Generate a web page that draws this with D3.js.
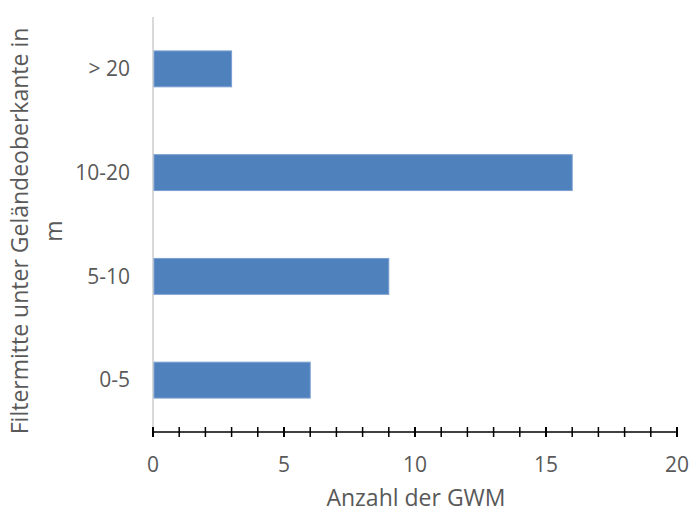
<!DOCTYPE html>
<html>
<head>
<meta charset="utf-8">
<script src="https://cdn.jsdelivr.net/npm/d3@7"></script>
<style>
  body { margin: 0; background: #fff; }
  text { font-family: "Open Sans", sans-serif; fill: #595959; }
</style>
</head>
<body>
<script>
// data
var categories = ["> 20", "10-20", "5-10", "0-5"];
var counts = [3, 16, 9, 6];
var xTicks = [0, 5, 10, 15, 20];

var margin = {top: 17, right: 13, bottom: 81, left: 153},
    width = 690 - margin.left - margin.right,
    height = 513 - margin.top - margin.bottom;

var x = d3.scaleLinear().domain([0, 20]).range([0, width]);
var y = d3.scaleBand().domain(categories).range([0, height]).paddingInner(0.654).paddingOuter(0.327);

var svg = d3.select("body").append("svg")
    .attr("width", 690)
    .attr("height", 513)
  .append("g")
    .attr("transform", "translate(" + margin.left + "," + margin.top + ")");

// y axis line (gray)
svg.append("line")
    .attr("x1", 0).attr("x2", 0)
    .attr("y1", 0).attr("y2", height)
    .style("stroke", "#d9d9d9").style("stroke-width", 2);

// bars
svg.selectAll("rect.bar")
    .data(categories)
  .enter().append("rect")
    .attr("class", "bar")
    .attr("x", x(0) + 1)
    .attr("y", function(d) { return y(d); })
    .attr("width", function(d, i) { return x(counts[i]) - x(0) - 1; })
    .attr("height", y.bandwidth())
    .style("fill", "#4f81bd")
    .style("stroke", "#7a9fd2")
    .style("stroke-width", 1);

// category labels
svg.selectAll("text.cat")
    .data(categories)
  .enter().append("text")
    .attr("class", "cat")
    .attr("x", -23)
    .attr("y", function(d) { return y(d) + y.bandwidth() / 2; })
    .attr("dy", "0.35em")
    .attr("text-anchor", "end")
    .style("font-size", "21px")
    .text(function(d) { return d; });

// x axis: minor ticks every 1, crossing
var xAxis = svg.append("g").attr("transform", "translate(0," + height + ")");
xAxis.append("line")
    .attr("x1", 0).attr("x2", width)
    .style("stroke", "#000").style("stroke-width", 1.5);
xAxis.selectAll("line.tick")
    .data(d3.range(0, 21))
  .enter().append("line")
    .attr("class", "tick")
    .attr("x1", function(d) { return x(d); })
    .attr("x2", function(d) { return x(d); })
    .attr("y1", -5).attr("y2", 5)
    .style("stroke", "#000")
    .style("stroke-width", function(d) { return d % 5 === 0 ? 2 : 1.5; });
xAxis.selectAll("text")
    .data(xTicks)
  .enter().append("text")
    .attr("x", function(d) { return x(d); })
    .attr("y", 40)
    .attr("text-anchor", "middle")
    .style("font-size", "21px")
    .text(function(d) { return d; });

// axis titles
svg.append("text")
    .attr("x", width / 2 + 1)
    .attr("y", height + 74)
    .attr("text-anchor", "middle")
    .style("font-size", "23px")
    .text("Anzahl der GWM");

var yTitle = svg.append("g")
    .attr("transform", "translate(" + (-margin.left) + "," + 214 + ") rotate(-90)");
yTitle.append("text")
    .attr("x", 0).attr("y", 28)
    .attr("text-anchor", "middle")
    .style("font-size", "23px")
    .text("Filtermitte unter Geländeoberkante in");
yTitle.append("text")
    .attr("x", 0).attr("y", 62)
    .attr("text-anchor", "middle")
    .style("font-size", "23px")
    .text("m");
</script>
</body>
</html>
